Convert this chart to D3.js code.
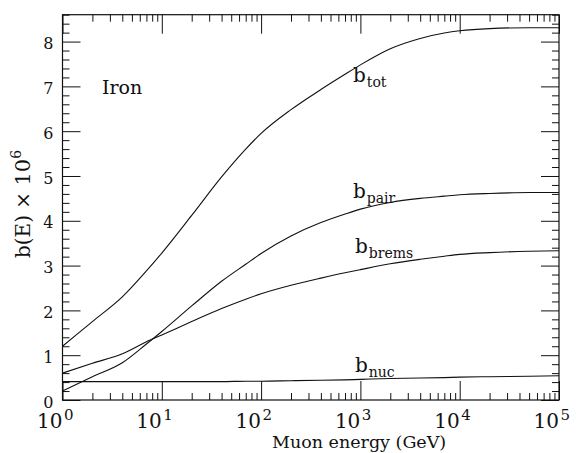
<!DOCTYPE html>
<html><head><meta charset="utf-8">
<script src="https://cdn.jsdelivr.net/npm/d3@7"></script>
<style>
body{margin:0;background:#fff;}
text{font-family:"DejaVu Serif",serif;fill:#111;}
</style></head>
<body><svg id="c" width="576" height="453"></svg>
<script>
// Energies (GeV)
const energy = [1, 2, 4, 7, 10, 20, 40, 70, 100, 200, 400, 700, 1e3, 2e3, 4e3, 7e3, 1e4, 2e4, 5e4, 1e5];
// b(E) x 10^6 values
const bTot   = [1.2, 1.75, 2.30, 2.88, 3.28, 4.12, 4.98, 5.6, 5.95, 6.48, 6.93, 7.27, 7.48, 7.84, 8.07, 8.19, 8.24, 8.29, 8.31, 8.31];
const bPair  = [0.2, 0.52, 0.83, 1.25, 1.53, 2.1, 2.65, 3.03, 3.27, 3.66, 3.96, 4.15, 4.26, 4.41, 4.5, 4.55, 4.58, 4.61, 4.63, 4.63];
const bBrems = [0.6, 0.82, 1.03, 1.3, 1.45, 1.75, 2.04, 2.25, 2.37, 2.56, 2.72, 2.84, 2.91, 3.04, 3.14, 3.21, 3.25, 3.29, 3.32, 3.33];
const bNuc   = [0.41, 0.41, 0.41, 0.41, 0.41, 0.41, 0.41, 0.42, 0.42, 0.43, 0.44, 0.45, 0.46, 0.48, 0.49, 0.5, 0.51, 0.52, 0.53, 0.54];
const xMajor = [1, 10, 100, 1e3, 1e4, 1e5];
const xExp   = ["0", "1", "2", "3", "4", "5"];
const yMajor = [0, 1, 2, 3, 4, 5, 6, 7, 8];
const seriesNames = ["tot", "pair", "brems", "nuc"];

const svg = d3.select("#c");
const L = 62.5, R = 559, T = 14.7, B = 400;
const x = d3.scaleLog().domain([1, 1e5]).range([L, R]);
const y = d3.scaleLinear().domain([0, 8.6]).range([B, T]);

const xMinor = x.ticks().filter(v => !xMajor.includes(v));
const yMinor = d3.range(0, 8.61, 0.2).map(v => +v.toFixed(1)).filter(v => Math.abs(v - Math.round(v)) > 1e-6);

function styleAxis(g){ g.select(".domain").remove(); g.selectAll("line").attr("stroke","#111").attr("stroke-width",1); }

// bottom
svg.append("g").attr("transform",`translate(0,${B})`).call(d3.axisBottom(x).tickValues(xMajor).tickSize(-19).tickSizeOuter(0).tickFormat("")).call(styleAxis);
svg.append("g").attr("transform",`translate(0,${B})`).call(d3.axisBottom(x).tickValues(xMinor).tickSize(-7).tickSizeOuter(0).tickFormat("")).call(styleAxis);
// top
svg.append("g").attr("transform",`translate(0,${T})`).call(d3.axisTop(x).tickValues(xMajor).tickSize(-19).tickSizeOuter(0).tickFormat("")).call(styleAxis);
svg.append("g").attr("transform",`translate(0,${T})`).call(d3.axisTop(x).tickValues(xMinor).tickSize(-7).tickSizeOuter(0).tickFormat("")).call(styleAxis);
// left
const yl = svg.append("g").attr("transform",`translate(${L},0)`).call(d3.axisLeft(y).tickValues(yMajor).tickSize(-18).tickSizeOuter(0).tickPadding(9).tickFormat(d3.format("d"))).call(styleAxis);
yl.selectAll("text").attr("font-size",16).attr("font-family","DejaVu Serif").attr("fill","#111").attr("dy","0.45em");
svg.append("g").attr("transform",`translate(${L},0)`).call(d3.axisLeft(y).tickValues(yMinor).tickSize(-7).tickSizeOuter(0).tickFormat("")).call(styleAxis);
// right
svg.append("g").attr("transform",`translate(${R},0)`).call(d3.axisRight(y).tickValues(yMajor).tickSize(-18).tickSizeOuter(0).tickFormat("")).call(styleAxis);
svg.append("g").attr("transform",`translate(${R},0)`).call(d3.axisRight(y).tickValues(yMinor).tickSize(-7).tickSizeOuter(0).tickFormat("")).call(styleAxis);

// frame
svg.append("rect").attr("x",L).attr("y",T).attr("width",R-L).attr("height",B-T).attr("fill","none").attr("stroke","#111").attr("stroke-width",1.2);

// x tick labels 10^n
const xl = svg.append("g").selectAll("text").data(xMajor).join("text")
  .attr("y", 428).attr("font-size",20);
xl.each(function(d,i){
  const t = d3.select(this);
  t.append("tspan").attr("x", x(d) - 25.5).text("10");
  t.append("tspan").attr("font-size",15).attr("dy",-8).attr("dx",1.5).text(xExp[i]);
});

// x axis title
svg.append("text").attr("x", 272).attr("y", 448).attr("font-size",17.5).text("Muon energy (GeV)");

// y axis title
const yt = svg.append("text").attr("transform","translate(30,258) rotate(-90)").attr("font-size",20);
yt.append("tspan").text("b(E) \u00d7 ");
yt.append("tspan").attr("font-size",21).text("10");
yt.append("tspan").attr("font-size",14).attr("dy",-9).text("6");

// Iron
svg.append("text").attr("x",102).attr("y",94).attr("font-size",19).text("Iron");

// curves
const line = d3.line().x((d,i)=>x(energy[i])).y(d=>y(d)).curve(d3.curveMonotoneX);
[bTot,bPair,bBrems,bNuc].forEach(s=>{
  svg.append("path").datum(s).attr("d",line).attr("fill","none").attr("stroke","#111").attr("stroke-width",1.1);
});

// curve labels
const labelPos = [[353,82],[353,198],[355,253],[355,372]];
seriesNames.forEach((n,i)=>{
  const t = svg.append("text").attr("x",labelPos[i][0]).attr("y",labelPos[i][1]).attr("font-size",20);
  t.append("tspan").text("b");
  t.append("tspan").attr("font-size",14).attr("dy",5).attr("dx",1).text(n);
});
</script></body></html>
